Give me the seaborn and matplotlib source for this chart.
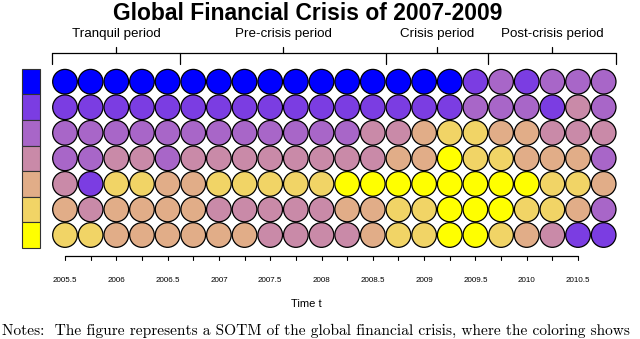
import numpy as np
import pandas as pd
import matplotlib.pyplot as plt
import seaborn as sns

# Cluster membership per row (1 = blue ... 7 = yellow), 22 quarters
row1 = [1, 1, 1, 1, 1, 1, 1, 1, 1, 1, 1, 1, 1, 1, 1, 1, 2, 3, 2, 3, 3, 3]
row2 = [2, 2, 2, 2, 2, 2, 2, 2, 2, 2, 2, 2, 2, 2, 2, 2, 3, 3, 3, 2, 4, 3]
row3 = [3, 3, 3, 3, 3, 3, 3, 3, 3, 3, 3, 3, 4, 4, 5, 6, 6, 5, 5, 4, 4, 4]
row4 = [3, 3, 4, 4, 3, 4, 4, 4, 4, 4, 4, 4, 4, 5, 5, 7, 6, 6, 5, 5, 5, 3]
row5 = [4, 2, 6, 6, 5, 5, 6, 6, 6, 6, 6, 7, 7, 7, 7, 7, 7, 7, 7, 6, 6, 5]
row6 = [5, 4, 5, 5, 5, 5, 4, 4, 4, 4, 4, 5, 5, 6, 6, 7, 7, 7, 6, 6, 5, 3]
row7 = [6, 6, 5, 5, 5, 5, 5, 5, 4, 4, 4, 4, 5, 6, 6, 7, 7, 6, 5, 4, 2, 2]

level_colors = ["#0000FF", "#7B3DE2", "#A866C8", "#C98AA8", "#E1AD88", "#F1D466", "#FFFF00"]

periods = ["Tranquil period", "Pre-crisis period", "Crisis period", "Post-crisis period"]
period_lengths = [5, 8, 4, 5]

tick_labels = ["2005.5", "2006", "2006.5", "2007", "2007.5", "2008",
               "2008.5", "2009", "2009.5", "2010", "2010.5"]

# long table for seaborn
rows = [row1, row2, row3, row4, row5, row6, row7]
records = []
for r, vals in enumerate(rows, start=1):
    for c, v in enumerate(vals, start=1):
        records.append({"col": c, "row": r, "level": v})
df = pd.DataFrame(records)

sns.set_style("white")
plt.rcParams['font.family'] = ['Liberation Sans', 'DejaVu Sans']
plt.rcParams['text.color'] = 'black'

fig = plt.figure(figsize=(6.4, 3.39), dpi=100)
ax = fig.add_axes([0, 0, 1, 1])

palette = {i + 1: c for i, c in enumerate(level_colors)}
sns.scatterplot(data=df, x="col", y="row", hue="level", palette=palette,
                s=315, edgecolor="black", linewidth=0.9, legend=False, ax=ax, zorder=3)

# colour key on the left
levels = np.arange(1, len(level_colors) + 1)
ax.barh(levels, width=0.71, left=-0.69, height=1.0, color=level_colors,
        edgecolor="#333333", linewidth=0.8)

# period brackets on top
edges = np.concatenate([[0.5], 0.5 + np.cumsum(period_lengths)])
yb = -0.12
ax.plot([edges[0], edges[-1]], [yb, yb], color="black", lw=0.9)
for e in edges:
    ax.plot([e, e], [yb, 0.31], color="black", lw=0.9)
for name, a, b in zip(periods, edges[:-1], edges[1:]):
    mid = (a + b) / 2
    ax.plot([mid, mid], [yb, -0.36], color="black", lw=0.9)
    ax.text(mid, -0.85, name, ha="center", va="center", fontsize=9.6)

# time axis at the bottom
n_ticks = 21
ya = 7.82
ax.plot([1, n_ticks], [ya, ya], color="black", lw=0.9)
for c in range(1, n_ticks + 1):
    ax.plot([c, c], [ya, 7.97], color="black", lw=0.8)
for i, lab in enumerate(tick_labels):
    ax.text(1 + 2 * i, 8.77, lab, ha="center", va="center", fontsize=5.8)
ax.text(10.4, 9.7, "Time t", ha="center", va="center", fontsize=8)

ax.set_xlim(-1.534, 23.417)
ax.set_ylim(11.07, -2.198)
ax.axis("off")

fig.text(0.48, 1 - 13 / 339, "Global Financial Crisis of 2007-2009",
         ha="center", va="center", fontsize=16.5, fontweight="bold")
fig.text(0.003, 1 - 331 / 339,
         "Notes:  The figure represents a SOTM of the global financial crisis, where the coloring shows",
         ha="left", va="center", fontsize=11.1, family=["cmr10", "DejaVu Serif"])

fig.savefig("out.png", dpi=100)
plt.close()
